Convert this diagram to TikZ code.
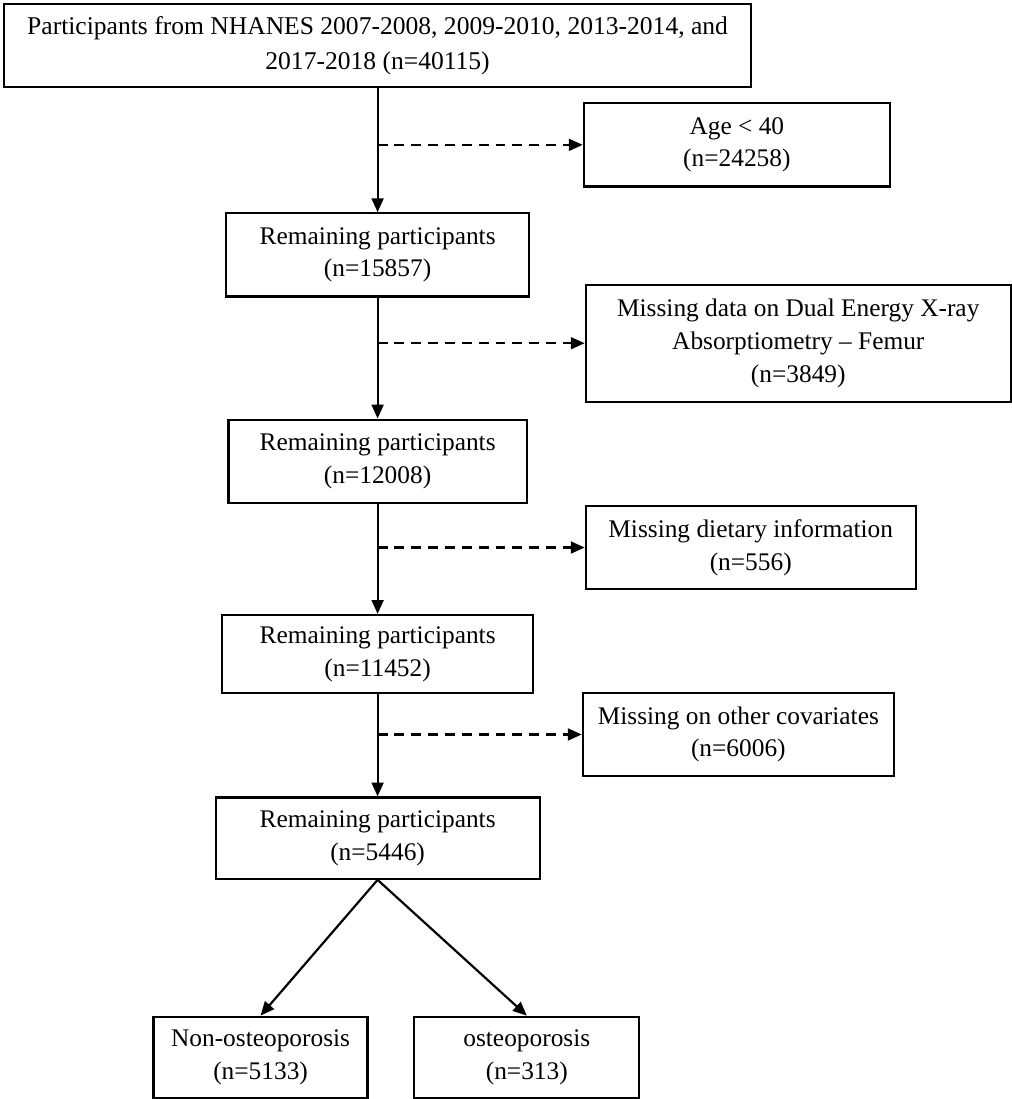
\documentclass[tikz,border=0pt]{standalone}
\usepackage{fontspec}
\setmainfont{Liberation Serif}
\usetikzlibrary{arrows.meta, positioning}

\begin{document}
\begin{tikzpicture}[>={Triangle[length=7pt, width=6pt]}, line width=1.1pt]
    % Block styles
    \tikzstyle{flow_block} = [rectangle, draw, align=center, font=\fontsize{12.8}{16.5}\selectfont, inner sep=2pt, minimum height=42pt]
    \tikzstyle{excl_line} = [->, dash pattern=on 5pt off 3.5pt]
    % Main path
    \node[flow_block, minimum width=377pt, font=\fontsize{12.9}{17.5}\selectfont] (start) {Participants from NHANES 2007-2008, 2009-2010, 2013-2014, and\\2017-2018 (n=40115)};
    \node[flow_block, minimum width=153pt, below=62.5pt of start] (rem1) {Remaining participants\\(n=15857)};
    \node[flow_block, minimum width=150.5pt, below=61pt of rem1] (rem2) {Remaining participants\\(n=12008)};
    \node[flow_block, minimum width=157pt, minimum height=39.5pt, below=55.5pt of rem2] (rem3) {Remaining participants\\(n=11452)};
    \node[flow_block, minimum width=163.5pt, minimum height=41pt, below=51.5pt of rem3] (rem4) {Remaining participants\\(n=5446)};
    \node[flow_block, minimum width=108pt, minimum height=41pt, below left=68.5pt and 4.5pt of rem4.south] (nonop) {Non-osteoporosis\\(n=5133)};
    \node[flow_block, minimum width=113.5pt, minimum height=41pt, below right=68.5pt and 18pt of rem4.south] (op) {osteoporosis\\(n=313)};
    % Exclusions
    \coordinate[below=28.5pt of start.south] (split1);
    \coordinate[below=23pt of rem1.south] (split2);
    \coordinate[below=22pt of rem2.south] (split3);
    \coordinate[below=20.25pt of rem3.south] (split4);
    \node[flow_block, minimum width=154.5pt, right=103.5pt of split1] (age) {Age < 40\\(n=24258)};
    \node[flow_block, minimum width=214.5pt, minimum height=59pt, right=104.5pt of split2] (dxa) {Missing data on Dual Energy X-ray\\Absorptiometry -- Femur\\(n=3849)};
    \node[flow_block, minimum width=166.5pt, right=104.5pt of split3] (diet) {Missing dietary information\\(n=556)};
    \node[flow_block, minimum width=157pt, minimum height=41.5pt, right=103pt of split4] (cov) {Missing on other covariates\\(n=6006)};
    % Connections
    \draw[->] (start) -- (rem1);
    \draw[->] (rem1) -- (rem2);
    \draw[->] (rem2) -- (rem3);
    \draw[->] (rem3) -- (rem4);
    \draw[excl_line] (split1) -- (age);
    \draw[excl_line] (split2) -- (dxa);
    \draw[excl_line] (split3) -- (diet);
    \draw[excl_line] (split4) -- (cov);
    \draw[->] (rem4.south) -- (nonop.north);
    \draw[->] (rem4.south) -- (op.north);
    % Page frame
    \useasboundingbox ([shift={(-1.5pt,1.5pt)}]start.north west) rectangle ++(510.5pt,-549.5pt);
\end{tikzpicture}
\end{document}
